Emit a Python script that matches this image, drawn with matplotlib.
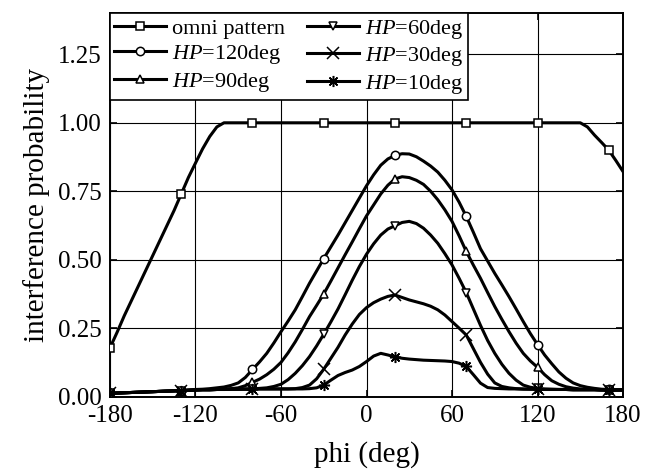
import matplotlib
matplotlib.use("Agg")
import matplotlib.pyplot as plt

plt.rcParams['font.family'] = 'Liberation Serif'
plt.rcParams['mathtext.fontset'] = 'custom'
plt.rcParams['mathtext.rm'] = 'Liberation Serif'
plt.rcParams['mathtext.it'] = 'Liberation Serif:italic'
plt.rcParams['axes.unicode_minus'] = False

phi = list(range(-180, 181, 5))

omni = [0.178, 0.235, 0.295, 0.35, 0.405, 0.46, 0.515, 0.57, 0.625, 0.68,
        0.74, 0.80, 0.853, 0.905, 0.95, 0.985, 1.0, 1.0, 1.0, 1.0,
        1.0, 1.0, 1.0, 1.0, 1.0, 1.0, 1.0, 1.0, 1.0, 1.0,
        1.0, 1.0, 1.0, 1.0, 1.0, 1.0, 1.0, 1.0, 1.0, 1.0,
        1.0, 1.0, 1.0, 1.0, 1.0, 1.0, 1.0, 1.0, 1.0, 1.0,
        1.0, 1.0, 1.0, 1.0, 1.0, 1.0, 1.0, 1.0, 1.0, 1.0,
        1.0, 1.0, 1.0, 1.0, 1.0, 1.0, 1.0, 0.985, 0.955, 0.928,
        0.90, 0.862, 0.822]
hp120 = [0.012, 0.013, 0.014, 0.015, 0.016, 0.017, 0.018, 0.019, 0.020, 0.021,
         0.022, 0.024, 0.026, 0.027, 0.029, 0.032, 0.035, 0.041, 0.050, 0.070,
         0.099, 0.127, 0.158, 0.196, 0.237, 0.276, 0.317, 0.365, 0.414, 0.459,
         0.504, 0.547, 0.59, 0.635, 0.68, 0.725, 0.77, 0.81, 0.845, 0.868,
         0.881, 0.887, 0.886, 0.876, 0.86, 0.842, 0.82, 0.79, 0.755, 0.71,
         0.658, 0.60, 0.54, 0.495, 0.45, 0.408, 0.365, 0.32, 0.274, 0.23,
         0.19, 0.152, 0.12, 0.09, 0.067, 0.05, 0.04, 0.034, 0.03, 0.027,
         0.026, 0.025, 0.025]
hp90 = [0.012, 0.013, 0.014, 0.015, 0.016, 0.017, 0.018, 0.019, 0.020, 0.021,
        0.022, 0.023, 0.024, 0.025, 0.025, 0.026, 0.027, 0.029, 0.032, 0.040,
        0.052, 0.064, 0.08, 0.10, 0.125, 0.16, 0.20, 0.245, 0.292, 0.333,
        0.375, 0.422, 0.47, 0.518, 0.565, 0.613, 0.66, 0.70, 0.74, 0.772,
        0.795, 0.803, 0.80, 0.79, 0.775, 0.75, 0.719, 0.682, 0.64, 0.587,
        0.53, 0.48, 0.432, 0.38, 0.329, 0.282, 0.237, 0.195, 0.158, 0.13,
        0.107, 0.08, 0.058, 0.045, 0.036, 0.031, 0.028, 0.027, 0.026, 0.025,
        0.025, 0.024, 0.024]
hp60 = [0.012, 0.013, 0.014, 0.015, 0.016, 0.017, 0.018, 0.019, 0.020, 0.021,
        0.022, 0.023, 0.024, 0.025, 0.025, 0.026, 0.026, 0.027, 0.027, 0.028,
        0.028, 0.030, 0.032, 0.037, 0.045, 0.062, 0.085, 0.113, 0.146, 0.185,
        0.228, 0.273, 0.32, 0.372, 0.425, 0.475, 0.52, 0.558, 0.59, 0.612,
        0.624, 0.636, 0.64, 0.632, 0.615, 0.59, 0.56, 0.522, 0.481, 0.432,
        0.38, 0.32, 0.26, 0.205, 0.158, 0.118, 0.085, 0.06, 0.042, 0.034,
        0.03, 0.028, 0.027, 0.026, 0.026, 0.025, 0.025, 0.025, 0.025, 0.024,
        0.024, 0.024, 0.024]
hp30 = [0.012, 0.013, 0.014, 0.015, 0.016, 0.017, 0.018, 0.019, 0.020, 0.021,
        0.022, 0.023, 0.024, 0.025, 0.025, 0.026, 0.026, 0.027, 0.027, 0.027,
        0.027, 0.028, 0.028, 0.028, 0.028, 0.028, 0.029, 0.033, 0.042, 0.065,
        0.10, 0.14, 0.18, 0.225, 0.265, 0.30, 0.325, 0.343, 0.356, 0.366,
        0.371, 0.362, 0.353, 0.346, 0.339, 0.33, 0.317, 0.298, 0.274, 0.25,
        0.225, 0.175, 0.125, 0.082, 0.05, 0.037, 0.032, 0.029, 0.028, 0.027,
        0.027, 0.026, 0.026, 0.026, 0.026, 0.025, 0.025, 0.025, 0.025, 0.024,
        0.024, 0.024, 0.024]
hp10 = [0.012, 0.013, 0.014, 0.015, 0.016, 0.017, 0.018, 0.019, 0.020, 0.021,
        0.022, 0.023, 0.024, 0.025, 0.025, 0.026, 0.026, 0.027, 0.027, 0.027,
        0.027, 0.028, 0.028, 0.028, 0.028, 0.028, 0.028, 0.028, 0.029, 0.032,
        0.042, 0.06, 0.077, 0.088, 0.097, 0.11, 0.128, 0.148, 0.158, 0.152,
        0.145, 0.14, 0.137, 0.135, 0.133, 0.132, 0.131, 0.13, 0.128, 0.122,
        0.11, 0.08, 0.049, 0.033, 0.03, 0.029, 0.028, 0.028, 0.027, 0.027,
        0.027, 0.026, 0.026, 0.026, 0.026, 0.025, 0.025, 0.025, 0.025, 0.024,
        0.024, 0.024, 0.024]

series = [
    (omni, 's', 6, 'omni pattern'),
    (hp120, 'o', 6, '$HP$=120deg'),
    (hp90, '^', 6, '$HP$=90deg'),
    (hp60, 'v', 6, '$HP$=60deg'),
    (hp30, 'x', 8, '$HP$=30deg'),
    (hp10, (8, 2, 0), 8, '$HP$=10deg'),
]

fig = plt.figure(figsize=(6.59, 4.74), dpi=100)
ax = fig.add_axes([0.1669, 0.1633, 0.7785, 0.8087])

# markers every 50 deg, starting at -180
for vals, mk, ms, lab in series:
    ax.plot(phi, vals, color='black', lw=2.2, marker=mk, markevery=10,
            markersize=ms, markerfacecolor='white', markeredgecolor='black',
            markeredgewidth=1.1, label=lab, zorder=3,
            solid_joinstyle='round')

ax.set_xlim(-180, 180)
ax.set_ylim(0, 1.4)
ax.set_xticks([-180, -120, -60, 0, 60, 120, 180])
ax.set_yticks([0, 0.25, 0.5, 0.75, 1.0, 1.25])
ax.set_yticklabels(['0.00', '0.25', '0.50', '0.75', '1.00', '1.25'])
ax.tick_params(direction='in', length=5, width=1.2, labelsize=18,
               left=True, right=True, top=True, bottom=True, pad=6)
ax.grid(True, color='black', lw=0.8)
for s in ax.spines.values():
    s.set_linewidth(1.4)

ax.set_xlabel('phi (deg)', fontsize=21, labelpad=10)
ax.set_ylabel('interference probability', fontsize=21, labelpad=6)

leg = ax.legend(loc='upper left', ncol=2, fontsize=16, frameon=True,
                fancybox=False, edgecolor='black', framealpha=1,
                borderaxespad=0, borderpad=0.2, handlelength=2.3,
                handletextpad=0.3, columnspacing=1.0, labelspacing=0.2)
leg.get_frame().set_linewidth(1.2)
leg.set_zorder(5)

fig.savefig('out.png', dpi=100)
